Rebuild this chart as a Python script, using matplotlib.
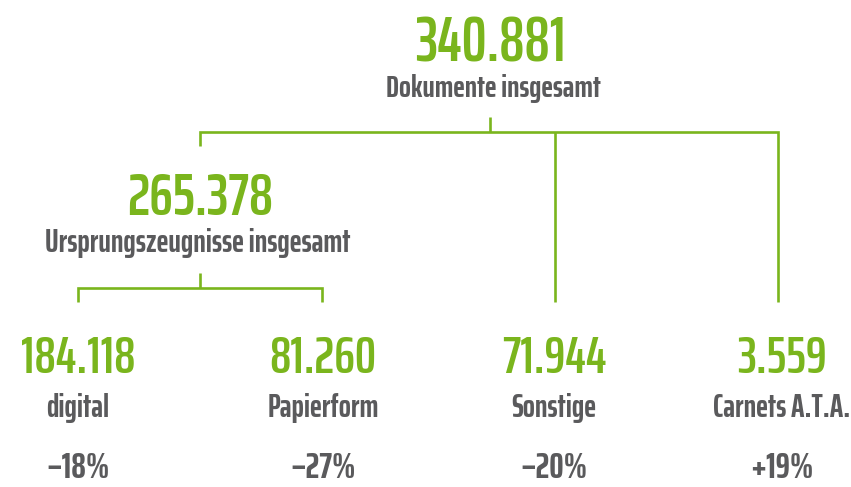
import matplotlib
matplotlib.use('agg')
import matplotlib.pyplot as plt

plt.rcParams['font.family'] = ['Saira ExtraCondensed', 'DejaVu Sans']

green = '#7ab51d'
grey = '#5a5a5c'

# top node
total_value = '340.881'
total_label = 'Dokumente insgesamt'
# middle node
origin_value = '265.378'
origin_label = 'Ursprungszeugnisse insgesamt'
# leaves
leaf_values = ['184.118', '81.260', '71.944', '3.559']
leaf_labels = ['digital', 'Papierform', 'Sonstige', 'Carnets A.T.A.']
leaf_changes = ['\u201318%', '\u201327%', '\u201320%', '+19%']

leaf_x = [78, 322, 555, 778]
top_x = 490
mid_x = 200

fig = plt.figure(figsize=(8.51, 4.87), dpi=100)
ax = fig.add_axes([0, 0, 1, 1])
ax.set_xlim(0, 851)
ax.set_ylim(487, 0)
ax.axis('off')

lw = 1.9
# top bracket
ax.plot([top_x, top_x], [117, 132], color=green, lw=lw, solid_capstyle='butt')
ax.plot([mid_x, mid_x, leaf_x[3], leaf_x[3]], [146, 132, 132, 302], color=green, lw=lw,
        solid_joinstyle='miter', solid_capstyle='butt')
ax.plot([leaf_x[2], leaf_x[2]], [132, 302], color=green, lw=lw, solid_capstyle='butt')
# middle bracket
ax.plot([mid_x, mid_x], [273, 288], color=green, lw=lw, solid_capstyle='butt')
ax.plot([leaf_x[0], leaf_x[0], leaf_x[1], leaf_x[1]], [302, 288, 288, 302], color=green, lw=lw,
        solid_joinstyle='miter', solid_capstyle='butt')

num_kw = dict(ha='center', va='baseline', color=green, fontweight='semibold')
lab_kw = dict(ha='center', va='baseline', color=grey, fontweight='bold')

ax.text(top_x, 62, total_value, fontsize=45, **num_kw)
ax.text(493, 97, total_label, fontsize=22.5, **lab_kw)
ax.text(mid_x, 215, origin_value, fontsize=43, **num_kw)
ax.text(198, 252, origin_label, fontsize=23, **lab_kw)

num_cx = [78, 323, 554, 782]
for cx, v, l, c in zip(num_cx, leaf_values, leaf_labels, leaf_changes):
    ax.text(cx, 373, v, fontsize=38, **num_kw)
    ax.text(cx, 417, l, fontsize=23, **lab_kw)
    ax.text(cx, 478, c, fontsize=26, **lab_kw)

fig.savefig('out.png', dpi=100)
